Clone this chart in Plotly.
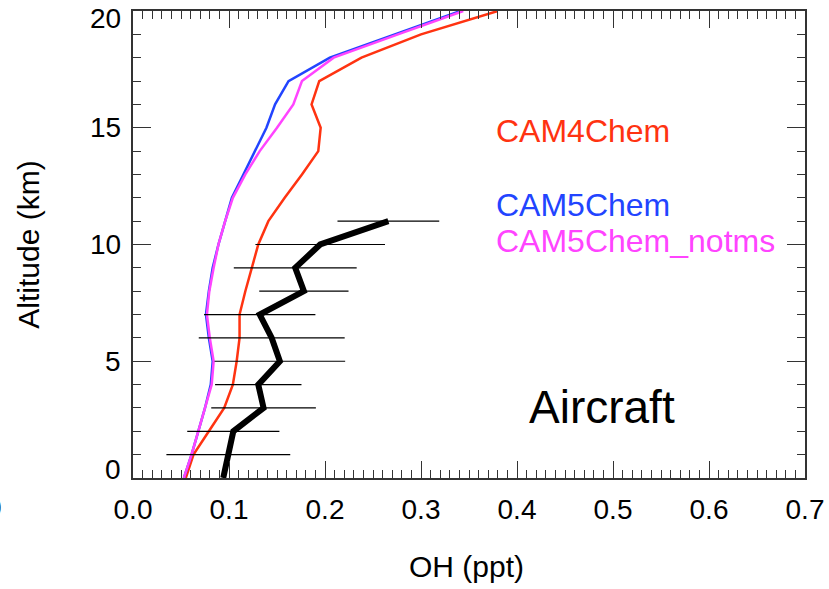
import plotly.graph_objects as go

# Altitude grid (km)
altitude = list(range(0, 21))

# Model OH profiles (ppt) on the altitude grid
cam4chem = [0.055, 0.063, 0.079, 0.095, 0.104, 0.108, 0.111, 0.111, 0.117, 0.124,
            0.1305, 0.141, 0.158, 0.176, 0.193, 0.1955, 0.186, 0.194, 0.238, 0.300, 0.380]
cam5chem = [0.053, 0.061, 0.068, 0.075, 0.081, 0.083, 0.079, 0.076, 0.079, 0.083,
            0.089, 0.096, 0.103, 0.115, 0.127, 0.139, 0.148, 0.162, 0.205, 0.272, 0.341]
cam5chem_notms = [0.053, 0.061, 0.068, 0.075, 0.082, 0.084, 0.080, 0.077, 0.0795, 0.084,
                  0.089, 0.096, 0.104, 0.117, 0.132, 0.150, 0.167, 0.176, 0.209, 0.276, 0.344]

# Aircraft observations: mean OH and spread per altitude bin
aircraft_alt = [0, 1, 2, 3, 4, 5, 6, 7, 8, 9, 10, 11]
aircraft_oh = [0.094, 0.0993, 0.1045, 0.136, 0.1305, 0.153, 0.1445, 0.132, 0.178, 0.169, 0.195, 0.266]
aircraft_err = [0.0, 0.0645, 0.048, 0.0545, 0.045, 0.068, 0.076, 0.058, 0.0465, 0.064, 0.0675, 0.053]

# Axis ticks
x_tick_vals = [0.0, 0.1, 0.2, 0.3, 0.4, 0.5, 0.6, 0.7]
x_tick_text = ["0.0", "0.1", "0.2", "0.3", "0.4", "0.5", "0.6", "0.7"]
y_tick_vals = [0, 5, 10, 15, 20]
y_tick_text = ["0", "5", "10", "15", "20"]

RED = "#ff3311"
BLUE = "#2244ff"
MAGENTA = "#ff44ff"
FONT = "Liberation Sans, Arial, sans-serif"

fig = go.Figure()
fig.add_trace(go.Scatter(x=cam4chem, y=altitude, mode="lines",
                         line=dict(color=RED, width=2.5), name="CAM4Chem"))
fig.add_trace(go.Scatter(x=cam5chem, y=altitude, mode="lines",
                         line=dict(color=BLUE, width=2.5), name="CAM5Chem"))
fig.add_trace(go.Scatter(x=cam5chem_notms, y=altitude, mode="lines",
                         line=dict(color=MAGENTA, width=2.5), name="CAM5Chem_notms"))
fig.add_trace(go.Scatter(x=aircraft_oh, y=aircraft_alt, mode="lines",
                         line=dict(color="black", width=6), name="Aircraft",
                         error_x=dict(type="data", array=aircraft_err, symmetric=True,
                                      color="black", thickness=1.2, width=0)))

axis_common = dict(showline=True, linecolor="#333333", linewidth=1.5, mirror="ticks",
                   ticks="inside", tickcolor="#333333", tickwidth=1.2,
                   showgrid=False, zeroline=False, automargin=False)

fig.update_xaxes(range=[0, 0.7], tickvals=x_tick_vals, ticktext=x_tick_text,
                 ticklen=17, ticklabelstandoff=6,
                 tickfont=dict(family=FONT, size=28, color="black"),
                 minor=dict(dtick=0.01, ticks="inside", ticklen=8, tickcolor="#333333", tickwidth=1),
                 **axis_common)
fig.update_yaxes(range=[0, 20], tickvals=y_tick_vals, showticklabels=False,
                 ticklen=18,
                 minor=dict(dtick=1, ticks="inside", ticklen=8, tickcolor="#333333", tickwidth=1),
                 **axis_common)

annotations = []
# y tick labels; the end labels sit inside the axis span
y_shift = {0: 9, 20: -7}
for v, t in zip(y_tick_vals, y_tick_text):
    annotations.append(dict(x=0, y=v, xref="x", yref="y", text=t, showarrow=False,
                            xanchor="right", yanchor="middle", xshift=-10,
                            yshift=y_shift.get(v, 0),
                            font=dict(family=FONT, size=28, color="black")))
# axis titles
annotations.append(dict(x=-0.156, y=0.5, xref="paper", yref="paper", text="Altitude (km)",
                        showarrow=False, textangle=-90, xanchor="center", yanchor="middle",
                        font=dict(family=FONT, size=30, color="black")))
annotations.append(dict(x=0.497, y=-0.19, xref="paper", yref="paper", text="OH (ppt)",
                        showarrow=False, xanchor="center", yanchor="middle",
                        font=dict(family=FONT, size=30, color="black")))
# series labels
annotations += [
    dict(x=0.376, y=14.85, xref="x", yref="y", text="CAM4Chem", showarrow=False,
         xanchor="left", yanchor="middle", font=dict(family=FONT, size=32, color=RED)),
    dict(x=0.376, y=11.7, xref="x", yref="y", text="CAM5Chem", showarrow=False,
         xanchor="left", yanchor="middle", font=dict(family=FONT, size=32, color=BLUE)),
    dict(x=0.376, y=10.15, xref="x", yref="y", text="CAM5Chem_notms", showarrow=False,
         xanchor="left", yanchor="middle", font=dict(family=FONT, size=32, color=MAGENTA)),
    dict(x=0.41, y=3.05, xref="x", yref="y", text="Aircraft", showarrow=False,
         xanchor="left", yanchor="middle", font=dict(family=FONT, size=46, color="black")),
]
# edge of a neighbouring panel's tick label
annotations.append(dict(x=-0.192, y=-0.064, xref="paper", yref="paper", text="0",
                        showarrow=False, xanchor="right", yanchor="middle",
                        font=dict(family=FONT, size=28, color="black")))

fig.update_layout(width=829, height=589, margin=dict(l=133, r=24, t=11, b=111),
                  plot_bgcolor="white", paper_bgcolor="white", showlegend=False,
                  annotations=annotations)

fig.write_html("out.html")
